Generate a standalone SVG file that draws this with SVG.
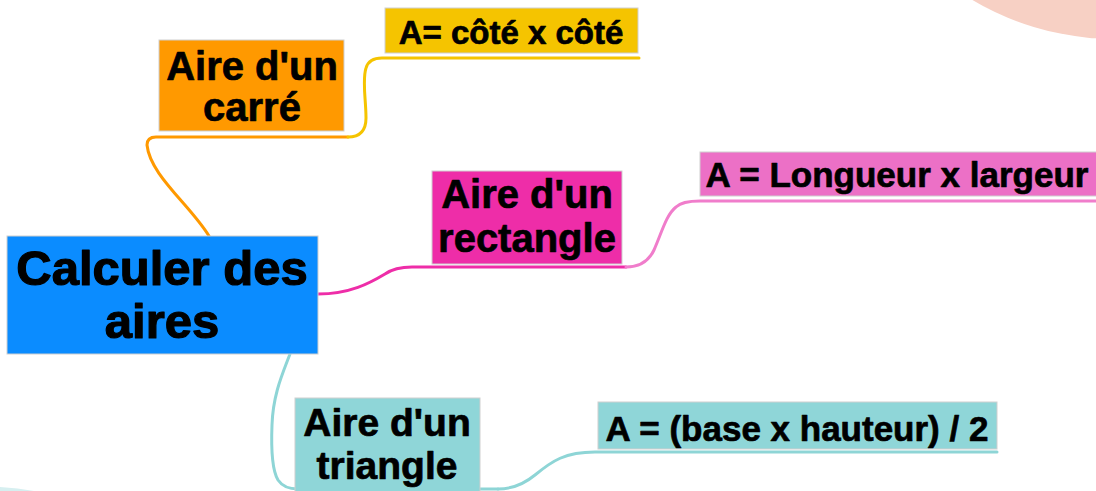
<svg xmlns="http://www.w3.org/2000/svg" width="1096" height="491" viewBox="0 0 1096 491">
<style>
.t{font-family:"Liberation Sans",Arial,sans-serif;font-weight:bold;fill:#000;text-anchor:middle;stroke:#000;stroke-width:0.7;stroke-linejoin:round}
.big{stroke-width:1.2}
.box{stroke:#cfcfcf;stroke-width:1}
.c{fill:none;stroke-width:3;stroke-linecap:round;stroke-linejoin:round}
</style>
<rect width="1096" height="491" fill="#ffffff"/>
<g id="decor">
<circle cx="1115" cy="-241" r="280" fill="#F7D0C4"/>
<path d="M0,487 Q18,488 34,491 L0,491 Z" fill="#d6eff0"/>
</g>
<g id="connectors">
<path class="c" stroke="#FF9900" d="M209,236 C190,205 150,175 147,145 Q147,137 156,137 L348,137"/>
<path class="c" stroke="#F5C400" d="M348,137 Q366,137 366,118 C366,100 362,80 366,68 Q369,58 382,58 L639,58"/>
<path class="c" stroke="#EE2DA8" d="M318,294 C350,294 370,283 385,274 Q395,267 412,267 L626,267"/>
<path class="c" stroke="#F07DCB" stroke-width="2.5" d="M626,267 Q646,267 654,250 C662,232 666,215 676,207 Q682,201 700,201 L1096,201"/>
<path class="c" stroke="#8ED5D6" d="M290,354 C282,375 273,395 272,425 C271,450 272,470 278,480 Q284,489 298,489 L498,489"/>
<path class="c" stroke="#8ED5D6" d="M498,489 Q518,489 535,475 C552,461 565,452 595,452 L997,452"/>
</g>
<g id="center">
<rect class="box" x="7" y="236" width="311" height="118" fill="#0B8CFF"/>
<text class="t big" x="162" y="285" font-size="49">Calculer des</text>
<text class="t big" x="162" y="338" font-size="49">aires</text>
</g>
<g id="carre">
<rect class="box" x="159" y="40" width="185" height="91" fill="#FF9900"/>
<text class="t" x="252" y="80" font-size="40">Aire d'un</text>
<text class="t" x="252" y="121" font-size="40">carré</text>
</g>
<g id="carre-formule">
<rect class="box" x="385" y="8" width="253" height="45" fill="#F5C400"/>
<text class="t" x="511" y="44" font-size="33">A= côté x côté</text>
</g>
<g id="rectangle">
<rect class="box" x="432" y="171" width="190" height="93" fill="#EE2DA8"/>
<text class="t" x="527" y="208" font-size="40">Aire d'un</text>
<text class="t" x="527" y="252" font-size="40">rectangle</text>
</g>
<g id="rectangle-formule">
<rect class="box" x="700" y="152" width="400" height="44" fill="#EC70C6"/>
<text class="t" x="897" y="187" font-size="35">A = Longueur x largeur</text>
</g>
<g id="triangle">
<rect class="box" x="295" y="398" width="185" height="96" fill="#8FD6D8"/>
<text class="t" x="387" y="436" font-size="39">Aire d'un</text>
<text class="t" x="387" y="479" font-size="39">triangle</text>
</g>
<g id="triangle-formule">
<rect class="box" x="598" y="402" width="399" height="47" fill="#8FD6D8"/>
<text class="t" x="797" y="441" font-size="35">A = (base x hauteur) / 2</text>
</g>
</svg>
